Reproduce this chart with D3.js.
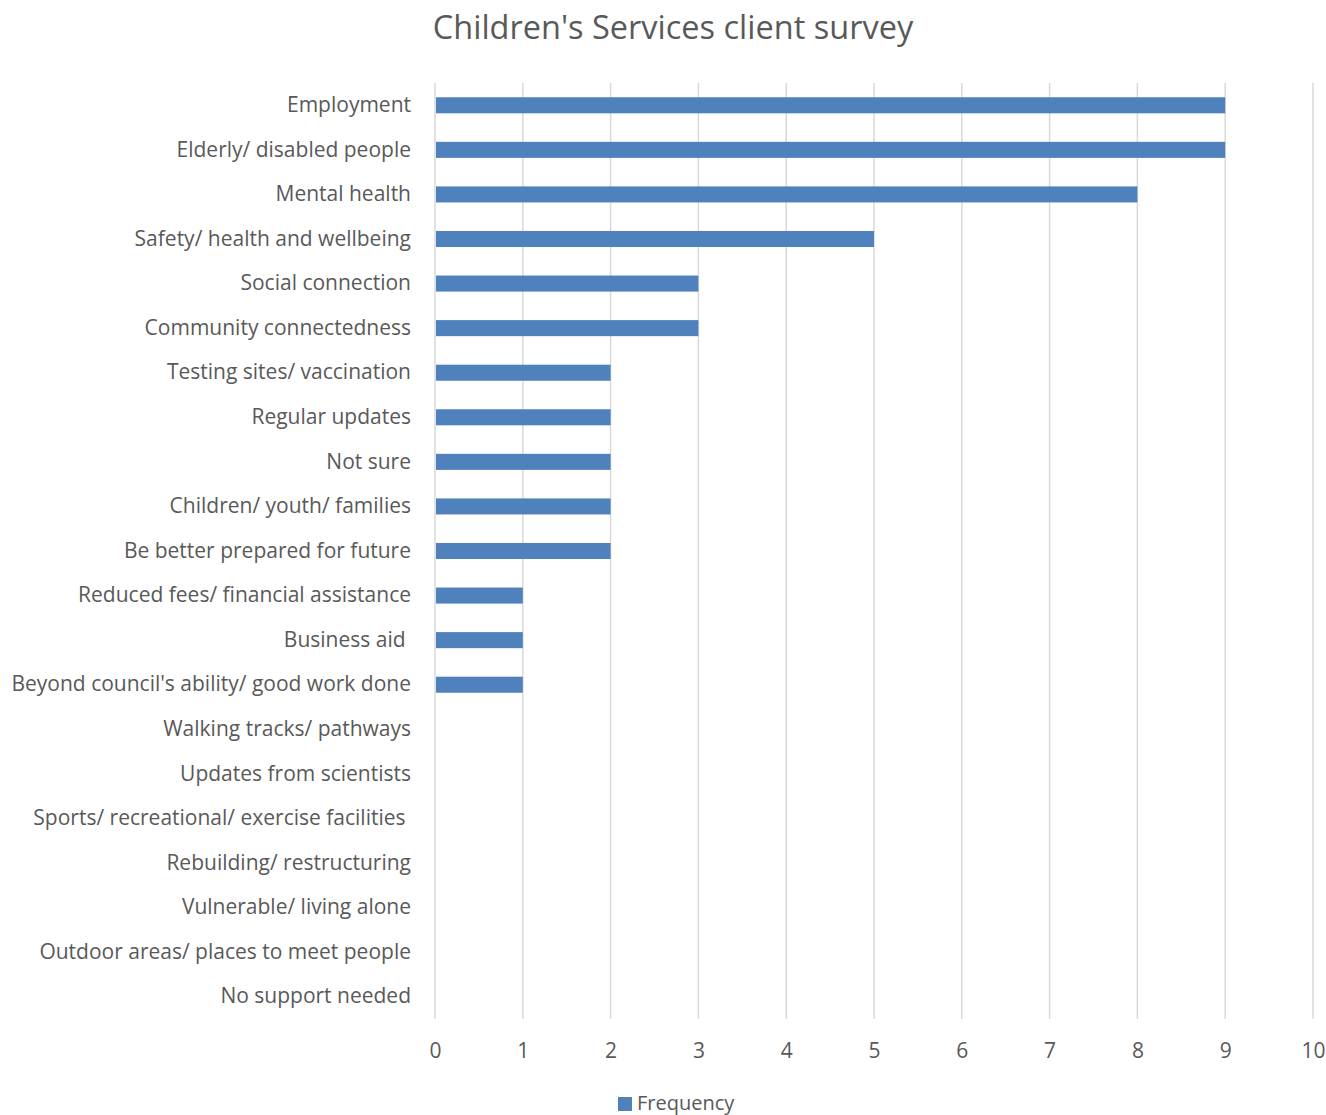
<!DOCTYPE html>
<html>
<head>
<meta charset="utf-8">
<script src="https://cdn.jsdelivr.net/npm/d3@7"></script>
<style>
  html, body { margin: 0; padding: 0; background: #ffffff; }
  svg { display: block; font-family: "Open Sans", sans-serif; }
</style>
</head>
<body>
<svg id="chart" width="1326" height="1115"></svg>
<script>
// Survey responses, listed top to bottom
const categories = [
  "Employment",
  "Elderly/ disabled people",
  "Mental health",
  "Safety/ health and wellbeing",
  "Social connection",
  "Community connectedness",
  "Testing sites/ vaccination",
  "Regular updates",
  "Not sure",
  "Children/ youth/ families",
  "Be better prepared for future",
  "Reduced fees/ financial assistance",
  "Business aid ",
  "Beyond council's ability/ good work done",
  "Walking tracks/ pathways",
  "Updates from scientists",
  "Sports/ recreational/ exercise facilities ",
  "Rebuilding/ restructuring",
  "Vulnerable/ living alone",
  "Outdoor areas/ places to meet people",
  "No support needed"
];
const frequency = [9, 9, 8, 5, 3, 3, 2, 2, 2, 2, 2, 1, 1, 1, 0, 0, 0, 0, 0, 0, 0];
const xTicks = [0, 1, 2, 3, 4, 5, 6, 7, 8, 9, 10];
const seriesName = "Frequency";
const titleText = "Children's Services client survey";

const svg = d3.select("#chart");
const textColor = "#595959";
const barColor = "#4f81bd";
const gridColor = "#d9d9d9";
const labelFont = "'Open Sans', sans-serif";

const plot = { left: 435, right: 1313, top: 83, bottom: 1019 };

const x = d3.scaleLinear().domain([0, 10]).range([plot.left, plot.right]);
const y = d3.scaleBand().domain(categories).range([plot.top, plot.bottom]).paddingInner(0.64).paddingOuter(0.32);

// Title
svg.append("text")
  .attr("x", 673).attr("y", 39)
  .attr("text-anchor", "middle")
  .attr("fill", textColor)
  .style("font-size", "32.5px")
  .style("font-family", labelFont)
  .text(titleText);

// Vertical gridlines
svg.append("g")
  .selectAll("line")
  .data(xTicks)
  .join("line")
  .attr("x1", d => x(d)).attr("x2", d => x(d))
  .attr("y1", plot.top).attr("y2", plot.bottom)
  .attr("stroke", gridColor)
  .attr("stroke-width", 1.5);

// Bars
svg.append("g")
  .selectAll("rect")
  .data(categories.map((c, i) => ({ c, v: frequency[i] })))
  .join("rect")
  .attr("x", x(0) + 1)
  .attr("y", d => y(d.c))
  .attr("width", d => Math.max(0, x(d.v) - x(0) - 1))
  .attr("height", y.bandwidth())
  .attr("fill", barColor);

// Category axis labels
const yAxis = d3.axisLeft(y).tickSize(0).tickPadding(24);
const yg = svg.append("g").attr("transform", `translate(${plot.left},0)`).call(yAxis);
yg.select(".domain").remove();
yg.selectAll("text")
  .attr("fill", textColor)
  .style("font-size", "21px")
  .style("font-family", labelFont)
  .style("white-space", "pre");

// Value axis labels
const xAxis = d3.axisBottom(x).tickValues(xTicks).tickSize(0).tickPadding(24).tickFormat(d3.format("d"));
const xg = svg.append("g").attr("transform", `translate(0,${plot.bottom})`).call(xAxis);
xg.select(".domain").remove();
xg.selectAll("text")
  .attr("fill", textColor)
  .style("font-size", "21px")
  .style("font-family", labelFont);

// Legend
const legend = svg.append("g").attr("transform", "translate(618,1097)");
legend.append("rect").attr("width", 14).attr("height", 14).attr("fill", barColor);
legend.append("text")
  .attr("x", 19).attr("y", 13)
  .attr("fill", textColor)
  .style("font-size", "20px")
  .style("font-family", labelFont)
  .text(seriesName);
</script>
</body>
</html>
